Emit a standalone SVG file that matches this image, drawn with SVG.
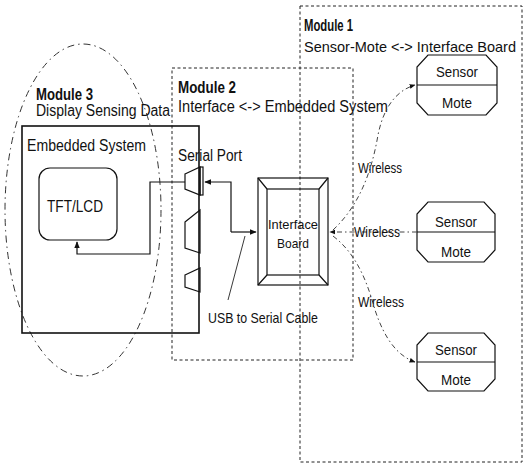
<svg xmlns="http://www.w3.org/2000/svg" width="523" height="472" viewBox="0 0 523 472">
<style>
text{font-family:"Liberation Sans",Arial,sans-serif;fill:#111}
.b{font-weight:bold}
.mod{fill:none;stroke:#222;stroke-width:1;stroke-dasharray:3,2.5}
.ell{fill:none;stroke:#333;stroke-width:1;stroke-dasharray:7,4,1.5,4}
.wl{fill:none;stroke:#444;stroke-width:1;stroke-dasharray:5,3,1.5,3}
.sol{fill:none;stroke:#111;stroke-width:1.2}
.box{fill:none;stroke:#111;stroke-width:1.6}
</style>
<defs>
<marker id="ah" viewBox="0 0 10 10" refX="9" refY="5" markerWidth="6" markerHeight="6" orient="auto">
<path d="M0,1 L10,5 L0,9 z" fill="#111"/>
</marker>
</defs>
<rect width="523" height="472" fill="#fff"/>

<g id="module1">
<rect class="mod" x="300" y="6" width="222" height="456"/>
<text class="b" x="304" y="31" font-size="16" textLength="49" lengthAdjust="spacingAndGlyphs">Module 1</text>
<text x="304" y="52" font-size="14.5" textLength="212" lengthAdjust="spacingAndGlyphs">Sensor-Mote &lt;-&gt; Interface Board</text>
</g>

<g id="module2">
<rect class="mod" x="172" y="68" width="181" height="292"/>
<text class="b" x="178" y="93" font-size="16" textLength="58" lengthAdjust="spacingAndGlyphs">Module 2</text>
<text x="178" y="112" font-size="16" textLength="210" lengthAdjust="spacingAndGlyphs">Interface &lt;-&gt; Embedded System</text>
</g>

<g id="module3">
<ellipse class="ell" cx="83" cy="210" rx="78" ry="166"/>
<text class="b" x="36" y="100" font-size="16" textLength="57" lengthAdjust="spacingAndGlyphs">Module 3</text>
<text x="36" y="116" font-size="16" textLength="134" lengthAdjust="spacingAndGlyphs">Display Sensing Data</text>
</g>

<g id="embedded-system">
<rect class="box" x="22" y="126" width="177" height="207"/>
<text x="27" y="151" font-size="16" textLength="119" lengthAdjust="spacingAndGlyphs">Embedded System</text>
</g>

<g id="tft-lcd">
<rect class="sol" x="39" y="168" width="78" height="72" rx="11"/>
<text x="75" y="212" font-size="17" text-anchor="middle" textLength="56" lengthAdjust="spacingAndGlyphs">TFT/LCD</text>
</g>

<g id="serial-port">
<text x="178" y="161" font-size="16" textLength="64" lengthAdjust="spacingAndGlyphs">Serial Port</text>
<polygon class="sol" points="185,174 200,167 200,195 185,189"/>
<rect class="sol" x="200" y="167" width="3" height="28"/>
<polygon class="sol" points="185,222 200,210 200,253 185,248"/>
<polygon class="sol" points="185,275 200,268 200,292 185,287"/>
</g>

<g id="interface-board">
<rect class="sol" x="258" y="178" width="70" height="107"/>
<rect class="sol" x="267" y="189" width="52" height="86"/>
<path class="sol" d="M258,178 L267,189 M328,178 L319,189 M258,285 L267,275 M328,285 L319,275"/>
<text x="293" y="229" font-size="13" text-anchor="middle" textLength="50" lengthAdjust="spacingAndGlyphs">Interface</text>
<text x="293" y="248" font-size="13" text-anchor="middle" textLength="32" lengthAdjust="spacingAndGlyphs">Board</text>
</g>

<g id="mote1">
<polygon class="sol" points="428,55 486,55 497,67 497,103 486,115 428,115 417,103 417,67"/>
<line class="sol" x1="417" y1="85" x2="497" y2="85"/>
<text x="457" y="77" font-size="15" text-anchor="middle" textLength="42" lengthAdjust="spacingAndGlyphs">Sensor</text>
<text x="457" y="108" font-size="15" text-anchor="middle" textLength="30" lengthAdjust="spacingAndGlyphs">Mote</text>
</g>

<g id="mote2">
<polygon class="sol" points="428,202 484,202 495,214 495,250 484,262 428,262 417,250 417,214"/>
<line class="sol" x1="417" y1="232" x2="495" y2="232"/>
<text x="456" y="227" font-size="15" text-anchor="middle" textLength="42" lengthAdjust="spacingAndGlyphs">Sensor</text>
<text x="456" y="257" font-size="15" text-anchor="middle" textLength="30" lengthAdjust="spacingAndGlyphs">Mote</text>
</g>

<g id="mote3">
<polygon class="sol" points="428,333 484,333 495,345 495,379 484,391 428,391 417,379 417,345"/>
<line class="sol" x1="417" y1="362" x2="495" y2="362"/>
<text x="456" y="355" font-size="15" text-anchor="middle" textLength="42" lengthAdjust="spacingAndGlyphs">Sensor</text>
<text x="456" y="385" font-size="15" text-anchor="middle" textLength="30" lengthAdjust="spacingAndGlyphs">Mote</text>
</g>

<g id="connectors">
<path class="sol" d="M185,182 L150,182 L150,254 L77,254 L77,242" marker-end="url(#ah)"/>
<path class="sol" d="M231,232 L231,182 L205,182" marker-end="url(#ah)"/>
<path class="sol" d="M231,232 L256,232" marker-end="url(#ah)"/>
<line x1="228" y1="300" x2="245" y2="236" stroke="#222" stroke-width="0.9"/>
<path class="wl" d="M333,230 C360,205 372,170 378,135 C384,105 398,90 415,85" marker-end="url(#ah)"/>
<path class="wl" d="M417,232 L330,232" marker-end="url(#ah)"/>
<path class="wl" d="M333,236 C358,255 368,285 375,310 C385,340 398,356 415,362" marker-end="url(#ah)"/>
<text x="358" y="173" font-size="14" textLength="44" lengthAdjust="spacingAndGlyphs">Wireless</text>
<text x="354" y="237" font-size="14" textLength="46" lengthAdjust="spacingAndGlyphs">Wireless</text>
<text x="358" y="307" font-size="14" textLength="46" lengthAdjust="spacingAndGlyphs">Wireless</text>
<text x="208" y="323" font-size="15" textLength="110" lengthAdjust="spacingAndGlyphs">USB to Serial Cable</text>
</g>
</svg>
